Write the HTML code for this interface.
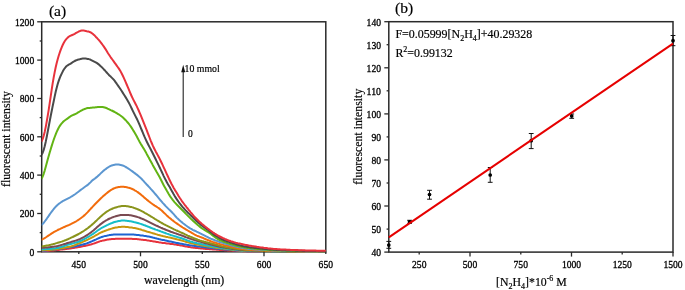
<!DOCTYPE html><html><head><meta charset="utf-8"><style>html,body{margin:0;padding:0;background:#fff;width:685px;height:290px;overflow:hidden}svg{display:block}text{fill:#000;stroke:#000;stroke-width:0.18px}</style></head><body>
<div style="position:absolute;left:0;top:0;width:685px;height:290px;will-change:transform">
<svg width="685" height="290" viewBox="0 0 685 290">
<rect width="685" height="290" fill="#fff"/>
<clipPath id="ca"><rect x="41.7" y="21.8" width="284.1" height="231.0"/></clipPath>
<rect x="41.7" y="21.8" width="284.1" height="230.0" fill="none" stroke="#2a2a2a" stroke-width="1.5"/>
<g clip-path="url(#ca)" fill="none" stroke-width="2" stroke-linejoin="round" stroke-linecap="round">
<path d="M41.7,251.2 L42.7,251.2 L43.7,251.1 L44.7,251.1 L45.7,251.0 L46.7,250.9 L47.7,250.9 L48.7,250.8 L49.7,250.7 L50.7,250.6 L51.7,250.6 L52.7,250.5 L53.7,250.4 L54.7,250.3 L55.7,250.2 L56.7,250.1 L57.7,250.0 L58.7,249.9 L59.7,249.8 L60.7,249.6 L61.7,249.5 L62.7,249.4 L63.7,249.3 L64.7,249.2 L65.7,249.0 L66.7,248.9 L67.7,248.8 L68.7,248.7 L69.7,248.5 L70.7,248.4 L71.7,248.3 L72.7,248.1 L73.7,248.0 L74.7,247.8 L75.7,247.6 L76.7,247.4 L77.7,247.3 L78.7,247.1 L79.7,246.9 L80.7,246.7 L81.7,246.5 L82.7,246.3 L83.7,246.1 L84.7,245.9 L85.7,245.7 L86.7,245.4 L87.7,245.2 L88.7,245.0 L89.7,244.7 L90.7,244.5 L91.7,244.2 L92.7,243.9 L93.7,243.6 L94.7,243.3 L95.7,242.9 L96.7,242.5 L97.7,242.1 L98.7,241.8 L99.7,241.4 L100.7,241.1 L101.7,240.9 L102.7,240.6 L103.7,240.4 L104.7,240.2 L105.7,240.0 L106.7,239.8 L107.7,239.6 L108.7,239.5 L109.7,239.3 L110.7,239.2 L111.7,239.1 L112.7,239.0 L113.7,238.9 L114.7,238.9 L115.7,238.8 L116.7,238.8 L117.7,238.8 L118.7,238.8 L119.7,238.8 L120.7,238.8 L121.7,238.8 L122.7,238.8 L123.7,238.8 L124.7,238.8 L125.7,238.8 L126.7,238.8 L127.7,238.8 L128.7,238.8 L129.7,238.8 L130.7,238.8 L131.7,238.8 L132.7,238.9 L133.7,238.9 L134.7,239.0 L135.7,239.1 L136.7,239.1 L137.7,239.2 L138.7,239.3 L139.7,239.4 L140.7,239.6 L141.7,239.7 L142.7,239.8 L143.7,239.9 L144.7,240.0 L145.7,240.1 L146.7,240.3 L147.7,240.4 L148.7,240.6 L149.7,240.7 L150.7,240.9 L151.7,241.1 L152.7,241.2 L153.7,241.4 L154.7,241.6 L155.7,241.8 L156.7,242.0 L157.7,242.1 L158.7,242.3 L159.7,242.4 L160.7,242.6 L161.7,242.7 L162.7,242.9 L163.7,243.0 L164.7,243.1 L165.7,243.2 L166.7,243.4 L167.7,243.5 L168.7,243.6 L169.7,243.7 L170.7,243.9 L171.7,244.0 L172.7,244.1 L173.7,244.3 L174.7,244.4 L175.7,244.6 L176.7,244.7 L177.7,244.9 L178.7,245.1 L179.7,245.2 L180.7,245.4 L181.7,245.6 L182.7,245.8 L183.7,246.0 L184.7,246.2 L185.7,246.4 L186.7,246.6 L187.7,246.8 L188.7,247.0 L189.7,247.1 L190.7,247.3 L191.7,247.4 L192.7,247.5 L193.7,247.7 L194.7,247.8 L195.7,247.9 L196.7,248.0 L197.7,248.1 L198.7,248.2 L199.7,248.3 L200.7,248.4 L201.7,248.5 L202.7,248.6 L203.7,248.7 L204.7,248.8 L205.7,248.9 L206.7,248.9 L207.7,249.0 L208.7,249.1 L209.7,249.2 L210.7,249.3 L211.7,249.3 L212.7,249.4 L213.7,249.5 L214.7,249.5 L215.7,249.6 L216.7,249.7 L217.7,249.7 L218.7,249.8 L219.7,249.9 L220.7,249.9 L221.7,250.0 L222.7,250.1 L223.7,250.1 L224.7,250.2 L225.7,250.2 L226.7,250.3 L227.7,250.4 L228.7,250.4 L229.7,250.5 L230.7,250.6 L231.7,250.6 L232.7,250.7 L233.7,250.7 L234.7,250.8 L235.7,250.8 L236.7,250.9 L237.7,251.0 L238.7,251.0 L239.7,251.1 L240.7,251.1 L241.7,251.1 L242.7,251.2 L243.7,251.2 L244.7,251.3 L245.7,251.3 L246.7,251.3 L247.7,251.4 L248.7,251.4 L249.7,251.4 L250.7,251.4 L251.7,251.4 L252.7,251.4 L253.7,251.4 L254.7,251.5 L255.7,251.5 L256.7,251.5 L257.7,251.5 L258.7,251.5 L259.7,251.5 L260.7,251.5 L261.7,251.5 L262.7,251.5 L263.7,251.5 L264.7,251.5 L265.7,251.5 L266.7,251.5 L267.7,251.5 L268.7,251.5 L269.7,251.5 L270.7,251.5 L271.7,251.5 L272.7,251.5 L273.7,251.5 L274.7,251.5 L275.7,251.5 L276.7,251.5 L277.7,251.5 L278.7,251.5 L279.7,251.5 L280.7,251.5 L281.7,251.5 L282.7,251.5 L283.7,251.5 L284.7,251.5 L285.7,251.5 L286.7,251.5 L287.7,251.5 L288.7,251.5 L289.7,251.5 L290.7,251.5 L291.7,251.5 L292.7,251.5 L293.7,251.5 L294.7,251.5 L295.7,251.5 L296.7,251.5 L297.7,251.5 L298.7,251.5 L299.7,251.5 L300.7,251.5 L301.7,251.5 L302.7,251.5 L303.7,251.5 L304.7,251.5 L305.7,251.5 L306.7,251.5 L307.7,251.5 L308.7,251.5 L309.7,251.5 L310.7,251.5 L311.7,251.5 L312.7,251.5 L313.7,251.5 L314.7,251.5 L315.7,251.5 L316.7,251.5 L317.7,251.5 L318.7,251.5 L319.7,251.5 L320.7,251.5 L321.7,251.5 L322.7,251.5 L323.7,251.5 L324.7,251.5 L325.7,251.5" stroke="#e6323c"/>
<path d="M41.7,250.8 L42.7,250.7 L43.7,250.7 L44.7,250.6 L45.7,250.5 L46.7,250.4 L47.7,250.3 L48.7,250.2 L49.7,250.1 L50.7,250.0 L51.7,249.9 L52.7,249.8 L53.7,249.6 L54.7,249.5 L55.7,249.4 L56.7,249.2 L57.7,249.1 L58.7,249.0 L59.7,248.8 L60.7,248.7 L61.7,248.5 L62.7,248.4 L63.7,248.2 L64.7,248.1 L65.7,247.9 L66.7,247.7 L67.7,247.6 L68.7,247.4 L69.7,247.2 L70.7,247.1 L71.7,246.9 L72.7,246.7 L73.7,246.5 L74.7,246.4 L75.7,246.2 L76.7,246.0 L77.7,245.7 L78.7,245.5 L79.7,245.3 L80.7,245.1 L81.7,244.8 L82.7,244.6 L83.7,244.3 L84.7,244.0 L85.7,243.7 L86.7,243.4 L87.7,243.0 L88.7,242.6 L89.7,242.2 L90.7,241.8 L91.7,241.4 L92.7,240.9 L93.7,240.5 L94.7,240.0 L95.7,239.6 L96.7,239.1 L97.7,238.6 L98.7,238.2 L99.7,237.8 L100.7,237.4 L101.7,237.0 L102.7,236.7 L103.7,236.4 L104.7,236.1 L105.7,235.9 L106.7,235.7 L107.7,235.4 L108.7,235.3 L109.7,235.1 L110.7,235.0 L111.7,234.8 L112.7,234.7 L113.7,234.6 L114.7,234.6 L115.7,234.5 L116.7,234.5 L117.7,234.5 L118.7,234.5 L119.7,234.5 L120.7,234.5 L121.7,234.5 L122.7,234.5 L123.7,234.5 L124.7,234.5 L125.7,234.5 L126.7,234.5 L127.7,234.5 L128.7,234.5 L129.7,234.5 L130.7,234.5 L131.7,234.6 L132.7,234.6 L133.7,234.6 L134.7,234.7 L135.7,234.8 L136.7,234.9 L137.7,235.0 L138.7,235.1 L139.7,235.2 L140.7,235.4 L141.7,235.5 L142.7,235.6 L143.7,235.8 L144.7,235.9 L145.7,236.0 L146.7,236.2 L147.7,236.4 L148.7,236.6 L149.7,236.8 L150.7,237.0 L151.7,237.2 L152.7,237.5 L153.7,237.7 L154.7,238.0 L155.7,238.2 L156.7,238.5 L157.7,238.7 L158.7,239.0 L159.7,239.2 L160.7,239.5 L161.7,239.7 L162.7,239.9 L163.7,240.1 L164.7,240.3 L165.7,240.6 L166.7,240.8 L167.7,241.0 L168.7,241.2 L169.7,241.4 L170.7,241.6 L171.7,241.8 L172.7,242.1 L173.7,242.3 L174.7,242.5 L175.7,242.7 L176.7,242.9 L177.7,243.1 L178.7,243.3 L179.7,243.5 L180.7,243.7 L181.7,243.8 L182.7,244.0 L183.7,244.2 L184.7,244.4 L185.7,244.6 L186.7,244.8 L187.7,244.9 L188.7,245.1 L189.7,245.2 L190.7,245.4 L191.7,245.5 L192.7,245.7 L193.7,245.8 L194.7,246.0 L195.7,246.1 L196.7,246.2 L197.7,246.4 L198.7,246.5 L199.7,246.6 L200.7,246.8 L201.7,246.9 L202.7,247.0 L203.7,247.1 L204.7,247.3 L205.7,247.4 L206.7,247.5 L207.7,247.6 L208.7,247.7 L209.7,247.8 L210.7,248.0 L211.7,248.1 L212.7,248.2 L213.7,248.3 L214.7,248.4 L215.7,248.5 L216.7,248.6 L217.7,248.7 L218.7,248.8 L219.7,248.9 L220.7,249.0 L221.7,249.1 L222.7,249.2 L223.7,249.3 L224.7,249.4 L225.7,249.5 L226.7,249.6 L227.7,249.7 L228.7,249.8 L229.7,249.8 L230.7,249.9 L231.7,250.0 L232.7,250.1 L233.7,250.2 L234.7,250.3 L235.7,250.4 L236.7,250.5 L237.7,250.6 L238.7,250.7 L239.7,250.8 L240.7,250.8 L241.7,250.9 L242.7,251.0 L243.7,251.0 L244.7,251.1 L245.7,251.1 L246.7,251.2 L247.7,251.2 L248.7,251.3 L249.7,251.3 L250.7,251.3 L251.7,251.3 L252.7,251.3 L253.7,251.4 L254.7,251.4 L255.7,251.4 L256.7,251.4 L257.7,251.4 L258.7,251.4 L259.7,251.4 L260.7,251.5 L261.7,251.5 L262.7,251.5 L263.7,251.5 L264.7,251.5 L265.7,251.5 L266.7,251.5 L267.7,251.5 L268.7,251.5 L269.7,251.5 L270.7,251.5 L271.7,251.5 L272.7,251.5 L273.7,251.5 L274.7,251.5 L275.7,251.5 L276.7,251.5 L277.7,251.5 L278.7,251.5 L279.7,251.5 L280.7,251.5 L281.7,251.5 L282.7,251.5 L283.7,251.5 L284.7,251.5 L285.7,251.5 L286.7,251.5 L287.7,251.5 L288.7,251.5 L289.7,251.5 L290.7,251.5 L291.7,251.5 L292.7,251.5 L293.7,251.5 L294.7,251.5 L295.7,251.5 L296.7,251.5 L297.7,251.5 L298.7,251.5 L299.7,251.5 L300.7,251.5 L301.7,251.5 L302.7,251.5 L303.7,251.5 L304.7,251.5 L305.7,251.5 L306.7,251.5 L307.7,251.5 L308.7,251.5 L309.7,251.5 L310.7,251.5 L311.7,251.5 L312.7,251.5 L313.7,251.5 L314.7,251.5 L315.7,251.5 L316.7,251.5 L317.7,251.5 L318.7,251.5 L319.7,251.5 L320.7,251.5 L321.7,251.5 L322.7,251.5 L323.7,251.5 L324.7,251.5 L325.7,251.5" stroke="#1e64d2"/>
<path d="M41.7,250.2 L42.7,250.2 L43.7,250.2 L44.7,250.1 L45.7,250.1 L46.7,250.1 L47.7,250.0 L48.7,249.9 L49.7,249.9 L50.7,249.8 L51.7,249.7 L52.7,249.6 L53.7,249.5 L54.7,249.4 L55.7,249.2 L56.7,249.1 L57.7,248.9 L58.7,248.8 L59.7,248.6 L60.7,248.5 L61.7,248.3 L62.7,248.1 L63.7,247.9 L64.7,247.7 L65.7,247.5 L66.7,247.3 L67.7,247.1 L68.7,246.9 L69.7,246.7 L70.7,246.5 L71.7,246.2 L72.7,245.9 L73.7,245.6 L74.7,245.2 L75.7,244.7 L76.7,244.3 L77.7,243.9 L78.7,243.5 L79.7,243.1 L80.7,242.7 L81.7,242.3 L82.7,241.9 L83.7,241.4 L84.7,241.0 L85.7,240.6 L86.7,240.1 L87.7,239.7 L88.7,239.2 L89.7,238.7 L90.7,238.2 L91.7,237.6 L92.7,237.1 L93.7,236.6 L94.7,236.0 L95.7,235.4 L96.7,234.8 L97.7,234.3 L98.7,233.7 L99.7,233.2 L100.7,232.7 L101.7,232.2 L102.7,231.8 L103.7,231.4 L104.7,231.0 L105.7,230.6 L106.7,230.2 L107.7,229.9 L108.7,229.5 L109.7,229.2 L110.7,228.9 L111.7,228.6 L112.7,228.3 L113.7,228.0 L114.7,227.8 L115.7,227.6 L116.7,227.4 L117.7,227.3 L118.7,227.1 L119.7,227.0 L120.7,226.9 L121.7,226.8 L122.7,226.8 L123.7,226.8 L124.7,226.8 L125.7,226.9 L126.7,227.0 L127.7,227.1 L128.7,227.2 L129.7,227.4 L130.7,227.5 L131.7,227.6 L132.7,227.8 L133.7,227.9 L134.7,228.1 L135.7,228.3 L136.7,228.5 L137.7,228.7 L138.7,229.0 L139.7,229.2 L140.7,229.5 L141.7,229.9 L142.7,230.2 L143.7,230.5 L144.7,230.8 L145.7,231.1 L146.7,231.5 L147.7,231.8 L148.7,232.1 L149.7,232.3 L150.7,232.6 L151.7,232.9 L152.7,233.2 L153.7,233.5 L154.7,233.8 L155.7,234.1 L156.7,234.4 L157.7,234.7 L158.7,234.9 L159.7,235.2 L160.7,235.5 L161.7,235.7 L162.7,236.0 L163.7,236.2 L164.7,236.4 L165.7,236.7 L166.7,236.9 L167.7,237.1 L168.7,237.4 L169.7,237.6 L170.7,237.8 L171.7,238.1 L172.7,238.3 L173.7,238.5 L174.7,238.8 L175.7,239.0 L176.7,239.3 L177.7,239.5 L178.7,239.8 L179.7,240.0 L180.7,240.3 L181.7,240.5 L182.7,240.8 L183.7,241.1 L184.7,241.4 L185.7,241.7 L186.7,242.1 L187.7,242.3 L188.7,242.6 L189.7,242.9 L190.7,243.1 L191.7,243.4 L192.7,243.6 L193.7,243.8 L194.7,244.0 L195.7,244.2 L196.7,244.4 L197.7,244.6 L198.7,244.8 L199.7,245.0 L200.7,245.2 L201.7,245.4 L202.7,245.6 L203.7,245.8 L204.7,246.0 L205.7,246.1 L206.7,246.3 L207.7,246.5 L208.7,246.6 L209.7,246.8 L210.7,247.0 L211.7,247.1 L212.7,247.3 L213.7,247.4 L214.7,247.6 L215.7,247.7 L216.7,247.9 L217.7,248.0 L218.7,248.1 L219.7,248.3 L220.7,248.4 L221.7,248.5 L222.7,248.6 L223.7,248.7 L224.7,248.9 L225.7,249.0 L226.7,249.1 L227.7,249.2 L228.7,249.3 L229.7,249.4 L230.7,249.6 L231.7,249.7 L232.7,249.8 L233.7,249.9 L234.7,250.0 L235.7,250.1 L236.7,250.2 L237.7,250.3 L238.7,250.4 L239.7,250.5 L240.7,250.6 L241.7,250.7 L242.7,250.7 L243.7,250.8 L244.7,250.9 L245.7,250.9 L246.7,251.0 L247.7,251.0 L248.7,251.1 L249.7,251.1 L250.7,251.1 L251.7,251.1 L252.7,251.2 L253.7,251.2 L254.7,251.2 L255.7,251.2 L256.7,251.2 L257.7,251.3 L258.7,251.3 L259.7,251.3 L260.7,251.3 L261.7,251.3 L262.7,251.4 L263.7,251.4 L264.7,251.4 L265.7,251.4 L266.7,251.4 L267.7,251.4 L268.7,251.5 L269.7,251.5 L270.7,251.5 L271.7,251.5 L272.7,251.5 L273.7,251.5 L274.7,251.5 L275.7,251.5 L276.7,251.5 L277.7,251.5 L278.7,251.5 L279.7,251.5 L280.7,251.5 L281.7,251.5 L282.7,251.5 L283.7,251.5 L284.7,251.5 L285.7,251.5 L286.7,251.5 L287.7,251.5 L288.7,251.5 L289.7,251.5 L290.7,251.5 L291.7,251.5 L292.7,251.5 L293.7,251.5 L294.7,251.5 L295.7,251.5 L296.7,251.5 L297.7,251.5 L298.7,251.5 L299.7,251.5 L300.7,251.5 L301.7,251.5 L302.7,251.5 L303.7,251.5 L304.7,251.5 L305.7,251.5 L306.7,251.5 L307.7,251.5 L308.7,251.5 L309.7,251.5 L310.7,251.5 L311.7,251.5 L312.7,251.5 L313.7,251.5 L314.7,251.5 L315.7,251.5 L316.7,251.5 L317.7,251.5 L318.7,251.5 L319.7,251.5 L320.7,251.5 L321.7,251.5 L322.7,251.5 L323.7,251.5 L324.7,251.5 L325.7,251.5" stroke="#c8960c"/>
<path d="M41.7,249.3 L42.7,249.3 L43.7,249.3 L44.7,249.2 L45.7,249.2 L46.7,249.1 L47.7,249.1 L48.7,249.0 L49.7,248.9 L50.7,248.8 L51.7,248.7 L52.7,248.6 L53.7,248.5 L54.7,248.4 L55.7,248.3 L56.7,248.1 L57.7,247.9 L58.7,247.7 L59.7,247.4 L60.7,247.1 L61.7,246.8 L62.7,246.5 L63.7,246.2 L64.7,245.8 L65.7,245.5 L66.7,245.1 L67.7,244.8 L68.7,244.5 L69.7,244.2 L70.7,243.9 L71.7,243.7 L72.7,243.4 L73.7,243.2 L74.7,242.9 L75.7,242.6 L76.7,242.3 L77.7,242.0 L78.7,241.6 L79.7,241.2 L80.7,240.8 L81.7,240.3 L82.7,239.8 L83.7,239.3 L84.7,238.8 L85.7,238.3 L86.7,237.7 L87.7,237.2 L88.7,236.6 L89.7,236.0 L90.7,235.3 L91.7,234.7 L92.7,234.1 L93.7,233.4 L94.7,232.7 L95.7,232.0 L96.7,231.2 L97.7,230.5 L98.7,229.8 L99.7,229.2 L100.7,228.5 L101.7,227.9 L102.7,227.4 L103.7,226.8 L104.7,226.3 L105.7,225.8 L106.7,225.3 L107.7,224.9 L108.7,224.4 L109.7,223.9 L110.7,223.5 L111.7,223.1 L112.7,222.7 L113.7,222.3 L114.7,222.0 L115.7,221.7 L116.7,221.5 L117.7,221.2 L118.7,221.0 L119.7,220.9 L120.7,220.7 L121.7,220.6 L122.7,220.6 L123.7,220.6 L124.7,220.6 L125.7,220.7 L126.7,220.8 L127.7,220.9 L128.7,221.0 L129.7,221.2 L130.7,221.3 L131.7,221.5 L132.7,221.7 L133.7,222.0 L134.7,222.2 L135.7,222.4 L136.7,222.7 L137.7,223.0 L138.7,223.3 L139.7,223.6 L140.7,223.9 L141.7,224.2 L142.7,224.6 L143.7,225.0 L144.7,225.3 L145.7,225.7 L146.7,226.1 L147.7,226.5 L148.7,226.9 L149.7,227.3 L150.7,227.7 L151.7,228.1 L152.7,228.5 L153.7,228.8 L154.7,229.2 L155.7,229.6 L156.7,229.9 L157.7,230.3 L158.7,230.6 L159.7,231.0 L160.7,231.4 L161.7,231.7 L162.7,232.1 L163.7,232.5 L164.7,232.8 L165.7,233.2 L166.7,233.6 L167.7,233.9 L168.7,234.3 L169.7,234.6 L170.7,235.0 L171.7,235.3 L172.7,235.6 L173.7,235.9 L174.7,236.2 L175.7,236.5 L176.7,236.8 L177.7,237.1 L178.7,237.4 L179.7,237.7 L180.7,238.0 L181.7,238.3 L182.7,238.7 L183.7,239.0 L184.7,239.4 L185.7,239.8 L186.7,240.2 L187.7,240.6 L188.7,240.9 L189.7,241.3 L190.7,241.6 L191.7,241.9 L192.7,242.1 L193.7,242.4 L194.7,242.7 L195.7,242.9 L196.7,243.1 L197.7,243.4 L198.7,243.6 L199.7,243.8 L200.7,244.0 L201.7,244.2 L202.7,244.4 L203.7,244.6 L204.7,244.8 L205.7,245.0 L206.7,245.2 L207.7,245.4 L208.7,245.6 L209.7,245.8 L210.7,246.0 L211.7,246.2 L212.7,246.4 L213.7,246.6 L214.7,246.8 L215.7,246.9 L216.7,247.1 L217.7,247.3 L218.7,247.5 L219.7,247.6 L220.7,247.8 L221.7,247.9 L222.7,248.1 L223.7,248.2 L224.7,248.4 L225.7,248.5 L226.7,248.6 L227.7,248.8 L228.7,248.9 L229.7,249.0 L230.7,249.1 L231.7,249.3 L232.7,249.4 L233.7,249.5 L234.7,249.6 L235.7,249.8 L236.7,249.9 L237.7,250.0 L238.7,250.1 L239.7,250.2 L240.7,250.3 L241.7,250.4 L242.7,250.5 L243.7,250.6 L244.7,250.6 L245.7,250.7 L246.7,250.8 L247.7,250.8 L248.7,250.8 L249.7,250.9 L250.7,250.9 L251.7,250.9 L252.7,251.0 L253.7,251.0 L254.7,251.0 L255.7,251.0 L256.7,251.1 L257.7,251.1 L258.7,251.1 L259.7,251.1 L260.7,251.1 L261.7,251.2 L262.7,251.2 L263.7,251.2 L264.7,251.2 L265.7,251.2 L266.7,251.3 L267.7,251.3 L268.7,251.3 L269.7,251.3 L270.7,251.3 L271.7,251.3 L272.7,251.4 L273.7,251.4 L274.7,251.4 L275.7,251.4 L276.7,251.4 L277.7,251.4 L278.7,251.5 L279.7,251.5 L280.7,251.5 L281.7,251.5 L282.7,251.5 L283.7,251.5 L284.7,251.5 L285.7,251.5 L286.7,251.5 L287.7,251.5 L288.7,251.5 L289.7,251.5 L290.7,251.5 L291.7,251.5 L292.7,251.5 L293.7,251.5 L294.7,251.5 L295.7,251.5 L296.7,251.5 L297.7,251.5 L298.7,251.5 L299.7,251.5 L300.7,251.5 L301.7,251.5 L302.7,251.5 L303.7,251.5 L304.7,251.5 L305.7,251.5 L306.7,251.5 L307.7,251.5 L308.7,251.5 L309.7,251.5 L310.7,251.5 L311.7,251.5 L312.7,251.5 L313.7,251.5 L314.7,251.5 L315.7,251.5 L316.7,251.5 L317.7,251.5 L318.7,251.5 L319.7,251.5 L320.7,251.5 L321.7,251.5 L322.7,251.5 L323.7,251.5 L324.7,251.5 L325.7,251.5" stroke="#16bec8"/>
<path d="M41.7,247.8 L42.7,247.8 L43.7,247.7 L44.7,247.7 L45.7,247.6 L46.7,247.5 L47.7,247.4 L48.7,247.3 L49.7,247.2 L50.7,247.1 L51.7,247.0 L52.7,246.8 L53.7,246.7 L54.7,246.5 L55.7,246.4 L56.7,246.2 L57.7,246.0 L58.7,245.7 L59.7,245.5 L60.7,245.2 L61.7,244.9 L62.7,244.6 L63.7,244.3 L64.7,244.0 L65.7,243.7 L66.7,243.3 L67.7,243.0 L68.7,242.7 L69.7,242.4 L70.7,242.1 L71.7,241.8 L72.7,241.5 L73.7,241.2 L74.7,240.9 L75.7,240.6 L76.7,240.3 L77.7,239.9 L78.7,239.5 L79.7,239.1 L80.7,238.6 L81.7,238.1 L82.7,237.6 L83.7,237.1 L84.7,236.5 L85.7,235.9 L86.7,235.3 L87.7,234.7 L88.7,234.0 L89.7,233.3 L90.7,232.6 L91.7,231.8 L92.7,231.0 L93.7,230.2 L94.7,229.3 L95.7,228.4 L96.7,227.5 L97.7,226.6 L98.7,225.8 L99.7,224.9 L100.7,224.1 L101.7,223.4 L102.7,222.6 L103.7,221.9 L104.7,221.3 L105.7,220.6 L106.7,220.1 L107.7,219.5 L108.7,219.0 L109.7,218.5 L110.7,218.1 L111.7,217.6 L112.7,217.3 L113.7,216.9 L114.7,216.6 L115.7,216.3 L116.7,216.0 L117.7,215.7 L118.7,215.5 L119.7,215.3 L120.7,215.1 L121.7,215.0 L122.7,214.9 L123.7,214.9 L124.7,214.9 L125.7,214.9 L126.7,214.9 L127.7,215.0 L128.7,215.1 L129.7,215.2 L130.7,215.3 L131.7,215.5 L132.7,215.7 L133.7,215.9 L134.7,216.2 L135.7,216.5 L136.7,216.8 L137.7,217.1 L138.7,217.4 L139.7,217.8 L140.7,218.2 L141.7,218.6 L142.7,219.0 L143.7,219.4 L144.7,219.9 L145.7,220.3 L146.7,220.8 L147.7,221.3 L148.7,221.8 L149.7,222.3 L150.7,222.8 L151.7,223.3 L152.7,223.8 L153.7,224.3 L154.7,224.8 L155.7,225.3 L156.7,225.8 L157.7,226.2 L158.7,226.7 L159.7,227.1 L160.7,227.6 L161.7,228.0 L162.7,228.5 L163.7,228.9 L164.7,229.3 L165.7,229.7 L166.7,230.1 L167.7,230.5 L168.7,230.9 L169.7,231.3 L170.7,231.7 L171.7,232.0 L172.7,232.4 L173.7,232.8 L174.7,233.1 L175.7,233.4 L176.7,233.8 L177.7,234.1 L178.7,234.5 L179.7,234.8 L180.7,235.1 L181.7,235.5 L182.7,235.9 L183.7,236.3 L184.7,236.7 L185.7,237.1 L186.7,237.4 L187.7,237.8 L188.7,238.2 L189.7,238.6 L190.7,238.9 L191.7,239.2 L192.7,239.6 L193.7,239.9 L194.7,240.2 L195.7,240.5 L196.7,240.8 L197.7,241.1 L198.7,241.4 L199.7,241.6 L200.7,241.9 L201.7,242.2 L202.7,242.5 L203.7,242.7 L204.7,243.0 L205.7,243.3 L206.7,243.5 L207.7,243.8 L208.7,244.0 L209.7,244.3 L210.7,244.5 L211.7,244.8 L212.7,245.1 L213.7,245.3 L214.7,245.6 L215.7,245.8 L216.7,246.0 L217.7,246.3 L218.7,246.5 L219.7,246.7 L220.7,246.9 L221.7,247.1 L222.7,247.3 L223.7,247.5 L224.7,247.6 L225.7,247.8 L226.7,248.0 L227.7,248.1 L228.7,248.3 L229.7,248.4 L230.7,248.6 L231.7,248.7 L232.7,248.9 L233.7,249.0 L234.7,249.2 L235.7,249.3 L236.7,249.4 L237.7,249.6 L238.7,249.7 L239.7,249.8 L240.7,249.9 L241.7,250.0 L242.7,250.1 L243.7,250.2 L244.7,250.3 L245.7,250.4 L246.7,250.4 L247.7,250.5 L248.7,250.5 L249.7,250.6 L250.7,250.6 L251.7,250.7 L252.7,250.7 L253.7,250.7 L254.7,250.7 L255.7,250.8 L256.7,250.8 L257.7,250.8 L258.7,250.9 L259.7,250.9 L260.7,250.9 L261.7,250.9 L262.7,251.0 L263.7,251.0 L264.7,251.0 L265.7,251.0 L266.7,251.1 L267.7,251.1 L268.7,251.1 L269.7,251.1 L270.7,251.2 L271.7,251.2 L272.7,251.2 L273.7,251.2 L274.7,251.3 L275.7,251.3 L276.7,251.3 L277.7,251.3 L278.7,251.3 L279.7,251.4 L280.7,251.4 L281.7,251.4 L282.7,251.4 L283.7,251.4 L284.7,251.4 L285.7,251.5 L286.7,251.5 L287.7,251.5 L288.7,251.5 L289.7,251.5 L290.7,251.5 L291.7,251.5 L292.7,251.5 L293.7,251.5 L294.7,251.5 L295.7,251.5 L296.7,251.5 L297.7,251.5 L298.7,251.5 L299.7,251.5 L300.7,251.5 L301.7,251.5 L302.7,251.5 L303.7,251.5 L304.7,251.5 L305.7,251.5 L306.7,251.5 L307.7,251.5 L308.7,251.5 L309.7,251.5 L310.7,251.5 L311.7,251.5 L312.7,251.5 L313.7,251.5 L314.7,251.5 L315.7,251.5 L316.7,251.5 L317.7,251.5 L318.7,251.5 L319.7,251.5 L320.7,251.5 L321.7,251.5 L322.7,251.5 L323.7,251.5 L324.7,251.5 L325.7,251.5" stroke="#7a4a52"/>
<path d="M41.7,246.4 L42.7,246.3 L43.7,246.2 L44.7,246.0 L45.7,245.8 L46.7,245.6 L47.7,245.4 L48.7,245.2 L49.7,244.9 L50.7,244.7 L51.7,244.4 L52.7,244.2 L53.7,243.9 L54.7,243.7 L55.7,243.4 L56.7,243.1 L57.7,242.8 L58.7,242.5 L59.7,242.2 L60.7,241.9 L61.7,241.6 L62.7,241.2 L63.7,240.9 L64.7,240.5 L65.7,240.1 L66.7,239.7 L67.7,239.3 L68.7,238.8 L69.7,238.4 L70.7,237.9 L71.7,237.4 L72.7,237.0 L73.7,236.5 L74.7,236.0 L75.7,235.5 L76.7,235.0 L77.7,234.5 L78.7,234.0 L79.7,233.4 L80.7,232.8 L81.7,232.2 L82.7,231.6 L83.7,231.0 L84.7,230.3 L85.7,229.6 L86.7,228.9 L87.7,228.2 L88.7,227.4 L89.7,226.6 L90.7,225.8 L91.7,224.9 L92.7,224.1 L93.7,223.2 L94.7,222.3 L95.7,221.3 L96.7,220.4 L97.7,219.4 L98.7,218.4 L99.7,217.5 L100.7,216.6 L101.7,215.7 L102.7,214.8 L103.7,214.0 L104.7,213.2 L105.7,212.4 L106.7,211.7 L107.7,211.1 L108.7,210.5 L109.7,209.9 L110.7,209.4 L111.7,209.0 L112.7,208.5 L113.7,208.1 L114.7,207.8 L115.7,207.5 L116.7,207.2 L117.7,206.9 L118.7,206.6 L119.7,206.4 L120.7,206.2 L121.7,206.1 L122.7,206.0 L123.7,206.0 L124.7,206.0 L125.7,206.1 L126.7,206.2 L127.7,206.3 L128.7,206.5 L129.7,206.7 L130.7,206.9 L131.7,207.1 L132.7,207.4 L133.7,207.8 L134.7,208.1 L135.7,208.5 L136.7,208.9 L137.7,209.3 L138.7,209.7 L139.7,210.2 L140.7,210.7 L141.7,211.2 L142.7,211.7 L143.7,212.2 L144.7,212.8 L145.7,213.3 L146.7,213.9 L147.7,214.5 L148.7,215.1 L149.7,215.7 L150.7,216.3 L151.7,216.9 L152.7,217.5 L153.7,218.1 L154.7,218.8 L155.7,219.4 L156.7,220.0 L157.7,220.6 L158.7,221.2 L159.7,221.8 L160.7,222.4 L161.7,223.0 L162.7,223.5 L163.7,224.1 L164.7,224.6 L165.7,225.2 L166.7,225.7 L167.7,226.2 L168.7,226.7 L169.7,227.2 L170.7,227.7 L171.7,228.2 L172.7,228.7 L173.7,229.2 L174.7,229.6 L175.7,230.1 L176.7,230.5 L177.7,231.0 L178.7,231.4 L179.7,231.9 L180.7,232.3 L181.7,232.8 L182.7,233.2 L183.7,233.7 L184.7,234.2 L185.7,234.6 L186.7,235.1 L187.7,235.6 L188.7,236.0 L189.7,236.5 L190.7,236.9 L191.7,237.3 L192.7,237.7 L193.7,238.1 L194.7,238.5 L195.7,238.9 L196.7,239.3 L197.7,239.7 L198.7,240.0 L199.7,240.4 L200.7,240.7 L201.7,241.0 L202.7,241.2 L203.7,241.5 L204.7,241.7 L205.7,242.0 L206.7,242.2 L207.7,242.5 L208.7,242.7 L209.7,243.0 L210.7,243.2 L211.7,243.5 L212.7,243.7 L213.7,244.0 L214.7,244.3 L215.7,244.6 L216.7,244.9 L217.7,245.1 L218.7,245.4 L219.7,245.7 L220.7,245.9 L221.7,246.2 L222.7,246.4 L223.7,246.6 L224.7,246.8 L225.7,247.0 L226.7,247.2 L227.7,247.4 L228.7,247.6 L229.7,247.7 L230.7,247.9 L231.7,248.1 L232.7,248.2 L233.7,248.4 L234.7,248.5 L235.7,248.7 L236.7,248.8 L237.7,249.0 L238.7,249.1 L239.7,249.2 L240.7,249.4 L241.7,249.5 L242.7,249.6 L243.7,249.7 L244.7,249.8 L245.7,249.9 L246.7,250.0 L247.7,250.0 L248.7,250.1 L249.7,250.2 L250.7,250.2 L251.7,250.3 L252.7,250.3 L253.7,250.4 L254.7,250.4 L255.7,250.5 L256.7,250.5 L257.7,250.6 L258.7,250.6 L259.7,250.6 L260.7,250.7 L261.7,250.7 L262.7,250.8 L263.7,250.8 L264.7,250.8 L265.7,250.9 L266.7,250.9 L267.7,250.9 L268.7,251.0 L269.7,251.0 L270.7,251.0 L271.7,251.0 L272.7,251.1 L273.7,251.1 L274.7,251.1 L275.7,251.1 L276.7,251.2 L277.7,251.2 L278.7,251.2 L279.7,251.2 L280.7,251.2 L281.7,251.3 L282.7,251.3 L283.7,251.3 L284.7,251.3 L285.7,251.3 L286.7,251.4 L287.7,251.4 L288.7,251.4 L289.7,251.4 L290.7,251.4 L291.7,251.4 L292.7,251.4 L293.7,251.4 L294.7,251.5 L295.7,251.5 L296.7,251.5 L297.7,251.5 L298.7,251.5 L299.7,251.5 L300.7,251.5 L301.7,251.5 L302.7,251.5 L303.7,251.5 L304.7,251.5 L305.7,251.5 L306.7,251.5 L307.7,251.5 L308.7,251.5 L309.7,251.5 L310.7,251.5 L311.7,251.5 L312.7,251.5 L313.7,251.5 L314.7,251.5 L315.7,251.5 L316.7,251.5 L317.7,251.5 L318.7,251.5 L319.7,251.5 L320.7,251.5 L321.7,251.5 L322.7,251.5 L323.7,251.5 L324.7,251.5 L325.7,251.5" stroke="#8a941c"/>
<path d="M41.7,239.6 L42.7,239.2 L43.7,238.7 L44.7,238.1 L45.7,237.5 L46.7,236.8 L47.7,236.1 L48.7,235.4 L49.7,234.8 L50.7,234.1 L51.7,233.4 L52.7,232.8 L53.7,232.2 L54.7,231.6 L55.7,231.1 L56.7,230.6 L57.7,230.0 L58.7,229.5 L59.7,229.1 L60.7,228.6 L61.7,228.1 L62.7,227.7 L63.7,227.2 L64.7,226.8 L65.7,226.3 L66.7,225.9 L67.7,225.5 L68.7,225.1 L69.7,224.6 L70.7,224.2 L71.7,223.7 L72.7,223.2 L73.7,222.7 L74.7,222.1 L75.7,221.6 L76.7,221.0 L77.7,220.3 L78.7,219.7 L79.7,219.0 L80.7,218.3 L81.7,217.5 L82.7,216.8 L83.7,215.9 L84.7,215.1 L85.7,214.1 L86.7,213.1 L87.7,212.1 L88.7,211.0 L89.7,209.9 L90.7,208.8 L91.7,207.8 L92.7,206.7 L93.7,205.6 L94.7,204.5 L95.7,203.5 L96.7,202.5 L97.7,201.5 L98.7,200.5 L99.7,199.5 L100.7,198.5 L101.7,197.6 L102.7,196.6 L103.7,195.7 L104.7,194.9 L105.7,194.0 L106.7,193.2 L107.7,192.4 L108.7,191.6 L109.7,190.9 L110.7,190.2 L111.7,189.6 L112.7,189.0 L113.7,188.5 L114.7,188.1 L115.7,187.7 L116.7,187.4 L117.7,187.2 L118.7,187.0 L119.7,186.9 L120.7,186.8 L121.7,186.7 L122.7,186.7 L123.7,186.7 L124.7,186.9 L125.7,187.0 L126.7,187.2 L127.7,187.5 L128.7,187.7 L129.7,188.0 L130.7,188.4 L131.7,188.8 L132.7,189.2 L133.7,189.7 L134.7,190.3 L135.7,190.8 L136.7,191.5 L137.7,192.1 L138.7,192.9 L139.7,193.6 L140.7,194.4 L141.7,195.3 L142.7,196.1 L143.7,197.0 L144.7,197.9 L145.7,198.7 L146.7,199.6 L147.7,200.4 L148.7,201.2 L149.7,202.0 L150.7,202.8 L151.7,203.5 L152.7,204.2 L153.7,204.9 L154.7,205.6 L155.7,206.2 L156.7,206.8 L157.7,207.5 L158.7,208.1 L159.7,208.9 L160.7,209.7 L161.7,210.5 L162.7,211.5 L163.7,212.5 L164.7,213.4 L165.7,214.4 L166.7,215.4 L167.7,216.3 L168.7,217.2 L169.7,218.0 L170.7,218.8 L171.7,219.7 L172.7,220.4 L173.7,221.2 L174.7,222.0 L175.7,222.7 L176.7,223.4 L177.7,224.1 L178.7,224.8 L179.7,225.5 L180.7,226.2 L181.7,226.8 L182.7,227.5 L183.7,228.1 L184.7,228.7 L185.7,229.3 L186.7,229.9 L187.7,230.5 L188.7,231.1 L189.7,231.7 L190.7,232.2 L191.7,232.8 L192.7,233.4 L193.7,234.0 L194.7,234.6 L195.7,235.1 L196.7,235.6 L197.7,236.0 L198.7,236.4 L199.7,236.8 L200.7,237.1 L201.7,237.5 L202.7,237.9 L203.7,238.3 L204.7,238.8 L205.7,239.2 L206.7,239.6 L207.7,240.0 L208.7,240.4 L209.7,240.8 L210.7,241.2 L211.7,241.5 L212.7,241.9 L213.7,242.2 L214.7,242.5 L215.7,242.8 L216.7,243.1 L217.7,243.4 L218.7,243.7 L219.7,244.0 L220.7,244.2 L221.7,244.5 L222.7,244.7 L223.7,245.0 L224.7,245.2 L225.7,245.5 L226.7,245.7 L227.7,245.9 L228.7,246.1 L229.7,246.3 L230.7,246.6 L231.7,246.8 L232.7,247.0 L233.7,247.2 L234.7,247.4 L235.7,247.6 L236.7,247.8 L237.7,248.0 L238.7,248.2 L239.7,248.4 L240.7,248.6 L241.7,248.7 L242.7,248.9 L243.7,249.0 L244.7,249.2 L245.7,249.3 L246.7,249.4 L247.7,249.5 L248.7,249.6 L249.7,249.7 L250.7,249.7 L251.7,249.8 L252.7,249.9 L253.7,249.9 L254.7,250.0 L255.7,250.0 L256.7,250.1 L257.7,250.1 L258.7,250.2 L259.7,250.2 L260.7,250.3 L261.7,250.3 L262.7,250.4 L263.7,250.4 L264.7,250.5 L265.7,250.5 L266.7,250.6 L267.7,250.6 L268.7,250.6 L269.7,250.7 L270.7,250.7 L271.7,250.7 L272.7,250.8 L273.7,250.8 L274.7,250.8 L275.7,250.9 L276.7,250.9 L277.7,250.9 L278.7,250.9 L279.7,251.0 L280.7,251.0 L281.7,251.0 L282.7,251.0 L283.7,251.1 L284.7,251.1 L285.7,251.1 L286.7,251.1 L287.7,251.2 L288.7,251.2 L289.7,251.2 L290.7,251.2 L291.7,251.2 L292.7,251.3 L293.7,251.3 L294.7,251.3 L295.7,251.3 L296.7,251.3 L297.7,251.4 L298.7,251.4 L299.7,251.4 L300.7,251.4 L301.7,251.4 L302.7,251.4 L303.7,251.5 L304.7,251.5 L305.7,251.5 L306.7,251.5 L307.7,251.5 L308.7,251.5 L309.7,251.5 L310.7,251.5 L311.7,251.5 L312.7,251.5 L313.7,251.5 L314.7,251.5 L315.7,251.5 L316.7,251.5 L317.7,251.5 L318.7,251.5 L319.7,251.5 L320.7,251.5 L321.7,251.5 L322.7,251.5 L323.7,251.5 L324.7,251.5 L325.7,251.5" stroke="#f26c0c"/>
<path d="M41.7,224.7 L42.7,223.9 L43.7,222.8 L44.7,221.5 L45.7,220.2 L46.7,218.8 L47.7,217.3 L48.7,215.9 L49.7,214.4 L50.7,213.0 L51.7,211.6 L52.7,210.3 L53.7,209.0 L54.7,207.8 L55.7,206.7 L56.7,205.7 L57.7,204.8 L58.7,203.9 L59.7,203.2 L60.7,202.5 L61.7,201.8 L62.7,201.2 L63.7,200.7 L64.7,200.1 L65.7,199.6 L66.7,199.1 L67.7,198.6 L68.7,198.1 L69.7,197.6 L70.7,197.0 L71.7,196.4 L72.7,195.8 L73.7,195.1 L74.7,194.5 L75.7,193.8 L76.7,193.0 L77.7,192.3 L78.7,191.5 L79.7,190.7 L80.7,189.9 L81.7,189.2 L82.7,188.5 L83.7,187.7 L84.7,187.0 L85.7,186.3 L86.7,185.6 L87.7,184.9 L88.7,184.0 L89.7,183.1 L90.7,182.1 L91.7,181.0 L92.7,180.1 L93.7,179.4 L94.7,178.7 L95.7,177.9 L96.7,177.1 L97.7,176.3 L98.7,175.3 L99.7,174.4 L100.7,173.4 L101.7,172.4 L102.7,171.5 L103.7,170.6 L104.7,169.8 L105.7,169.1 L106.7,168.3 L107.7,167.6 L108.7,167.0 L109.7,166.4 L110.7,165.9 L111.7,165.5 L112.7,165.2 L113.7,164.9 L114.7,164.7 L115.7,164.5 L116.7,164.4 L117.7,164.5 L118.7,164.5 L119.7,164.7 L120.7,164.9 L121.7,165.2 L122.7,165.5 L123.7,165.9 L124.7,166.4 L125.7,167.0 L126.7,167.5 L127.7,168.2 L128.7,168.8 L129.7,169.5 L130.7,170.2 L131.7,170.9 L132.7,171.6 L133.7,172.4 L134.7,173.1 L135.7,173.9 L136.7,174.6 L137.7,175.4 L138.7,176.3 L139.7,177.1 L140.7,178.1 L141.7,179.0 L142.7,180.1 L143.7,181.2 L144.7,182.3 L145.7,183.4 L146.7,184.5 L147.7,185.5 L148.7,186.6 L149.7,187.7 L150.7,188.8 L151.7,189.9 L152.7,191.0 L153.7,192.1 L154.7,193.3 L155.7,194.5 L156.7,195.7 L157.7,196.9 L158.7,198.1 L159.7,199.3 L160.7,200.5 L161.7,201.6 L162.7,202.8 L163.7,203.9 L164.7,205.0 L165.7,206.1 L166.7,207.1 L167.7,208.1 L168.7,209.1 L169.7,210.1 L170.7,211.0 L171.7,212.0 L172.7,213.1 L173.7,214.2 L174.7,215.3 L175.7,216.5 L176.7,217.6 L177.7,218.6 L178.7,219.5 L179.7,220.4 L180.7,221.3 L181.7,222.1 L182.7,223.0 L183.7,223.7 L184.7,224.5 L185.7,225.3 L186.7,226.0 L187.7,226.7 L188.7,227.4 L189.7,228.1 L190.7,228.7 L191.7,229.2 L192.7,229.8 L193.7,230.3 L194.7,230.7 L195.7,231.2 L196.7,231.7 L197.7,232.1 L198.7,232.6 L199.7,233.1 L200.7,233.6 L201.7,234.1 L202.7,234.6 L203.7,235.1 L204.7,235.6 L205.7,236.2 L206.7,236.7 L207.7,237.2 L208.7,237.7 L209.7,238.1 L210.7,238.6 L211.7,239.0 L212.7,239.4 L213.7,239.8 L214.7,240.2 L215.7,240.6 L216.7,240.9 L217.7,241.3 L218.7,241.6 L219.7,242.0 L220.7,242.3 L221.7,242.6 L222.7,242.9 L223.7,243.2 L224.7,243.5 L225.7,243.8 L226.7,244.1 L227.7,244.3 L228.7,244.6 L229.7,244.9 L230.7,245.2 L231.7,245.4 L232.7,245.7 L233.7,245.9 L234.7,246.2 L235.7,246.4 L236.7,246.7 L237.7,246.9 L238.7,247.1 L239.7,247.4 L240.7,247.6 L241.7,247.8 L242.7,248.0 L243.7,248.1 L244.7,248.3 L245.7,248.5 L246.7,248.6 L247.7,248.7 L248.7,248.9 L249.7,249.0 L250.7,249.1 L251.7,249.1 L252.7,249.2 L253.7,249.3 L254.7,249.4 L255.7,249.4 L256.7,249.5 L257.7,249.6 L258.7,249.7 L259.7,249.7 L260.7,249.8 L261.7,249.8 L262.7,249.9 L263.7,250.0 L264.7,250.0 L265.7,250.1 L266.7,250.1 L267.7,250.2 L268.7,250.2 L269.7,250.3 L270.7,250.3 L271.7,250.4 L272.7,250.4 L273.7,250.5 L274.7,250.5 L275.7,250.5 L276.7,250.6 L277.7,250.6 L278.7,250.7 L279.7,250.7 L280.7,250.7 L281.7,250.8 L282.7,250.8 L283.7,250.8 L284.7,250.9 L285.7,250.9 L286.7,250.9 L287.7,250.9 L288.7,251.0 L289.7,251.0 L290.7,251.0 L291.7,251.0 L292.7,251.1 L293.7,251.1 L294.7,251.1 L295.7,251.1 L296.7,251.2 L297.7,251.2 L298.7,251.2 L299.7,251.2 L300.7,251.3 L301.7,251.3 L302.7,251.3 L303.7,251.3 L304.7,251.3 L305.7,251.4 L306.7,251.4 L307.7,251.4 L308.7,251.4 L309.7,251.4 L310.7,251.5 L311.7,251.5 L312.7,251.5 L313.7,251.5 L314.7,251.5 L315.7,251.5 L316.7,251.5 L317.7,251.5 L318.7,251.5 L319.7,251.5 L320.7,251.5 L321.7,251.5 L322.7,251.5 L323.7,251.5 L324.7,251.5 L325.7,251.5" stroke="#5b96d0"/>
<path d="M41.7,178.4 L42.7,176.5 L43.7,173.8 L44.7,170.6 L45.7,167.0 L46.7,163.3 L47.7,159.6 L48.7,156.1 L49.7,152.6 L50.7,149.2 L51.7,145.9 L52.7,142.7 L53.7,139.7 L54.7,137.0 L55.7,134.4 L56.7,131.9 L57.7,129.8 L58.7,127.8 L59.7,126.1 L60.7,124.6 L61.7,123.4 L62.7,122.3 L63.7,121.3 L64.7,120.5 L65.7,119.8 L66.7,119.1 L67.7,118.4 L68.7,117.6 L69.7,116.9 L70.7,116.2 L71.7,115.6 L72.7,115.1 L73.7,114.7 L74.7,114.3 L75.7,113.8 L76.7,113.3 L77.7,112.7 L78.7,112.1 L79.7,111.5 L80.7,110.9 L81.7,110.3 L82.7,109.8 L83.7,109.4 L84.7,109.0 L85.7,108.6 L86.7,108.3 L87.7,108.1 L88.7,108.0 L89.7,107.9 L90.7,107.8 L91.7,107.7 L92.7,107.6 L93.7,107.5 L94.7,107.4 L95.7,107.3 L96.7,107.2 L97.7,107.1 L98.7,107.0 L99.7,106.9 L100.7,106.9 L101.7,106.9 L102.7,107.0 L103.7,107.2 L104.7,107.5 L105.7,107.8 L106.7,108.2 L107.7,108.7 L108.7,109.1 L109.7,109.6 L110.7,110.1 L111.7,110.5 L112.7,111.0 L113.7,111.5 L114.7,112.0 L115.7,112.6 L116.7,113.2 L117.7,113.8 L118.7,114.4 L119.7,115.0 L120.7,115.7 L121.7,116.5 L122.7,117.3 L123.7,118.2 L124.7,119.2 L125.7,120.2 L126.7,121.3 L127.7,122.5 L128.7,123.7 L129.7,125.0 L130.7,126.4 L131.7,127.9 L132.7,129.5 L133.7,131.1 L134.7,132.7 L135.7,134.5 L136.7,136.3 L137.7,138.2 L138.7,140.1 L139.7,142.0 L140.7,143.8 L141.7,145.4 L142.7,147.0 L143.7,148.6 L144.7,150.3 L145.7,152.0 L146.7,153.9 L147.7,155.7 L148.7,157.6 L149.7,159.4 L150.7,161.2 L151.7,163.0 L152.7,164.9 L153.7,166.7 L154.7,168.5 L155.7,170.3 L156.7,172.1 L157.7,173.8 L158.7,175.5 L159.7,177.3 L160.7,179.3 L161.7,181.3 L162.7,183.3 L163.7,185.2 L164.7,187.1 L165.7,188.8 L166.7,190.6 L167.7,192.3 L168.7,194.0 L169.7,195.6 L170.7,197.1 L171.7,198.5 L172.7,199.9 L173.7,201.1 L174.7,202.3 L175.7,203.4 L176.7,204.5 L177.7,205.5 L178.7,206.5 L179.7,207.5 L180.7,208.5 L181.7,209.5 L182.7,210.5 L183.7,211.5 L184.7,212.5 L185.7,213.6 L186.7,214.6 L187.7,215.6 L188.7,216.6 L189.7,217.6 L190.7,218.6 L191.7,219.6 L192.7,220.5 L193.7,221.4 L194.7,222.3 L195.7,223.2 L196.7,224.1 L197.7,225.0 L198.7,225.8 L199.7,226.6 L200.7,227.4 L201.7,228.2 L202.7,228.8 L203.7,229.5 L204.7,230.1 L205.7,230.7 L206.7,231.3 L207.7,231.8 L208.7,232.4 L209.7,233.1 L210.7,233.8 L211.7,234.6 L212.7,235.4 L213.7,236.3 L214.7,237.0 L215.7,237.7 L216.7,238.4 L217.7,239.0 L218.7,239.5 L219.7,240.0 L220.7,240.5 L221.7,240.9 L222.7,241.3 L223.7,241.7 L224.7,242.1 L225.7,242.4 L226.7,242.7 L227.7,243.1 L228.7,243.4 L229.7,243.7 L230.7,244.0 L231.7,244.3 L232.7,244.6 L233.7,244.9 L234.7,245.2 L235.7,245.4 L236.7,245.7 L237.7,245.9 L238.7,246.2 L239.7,246.4 L240.7,246.6 L241.7,246.9 L242.7,247.1 L243.7,247.2 L244.7,247.4 L245.7,247.6 L246.7,247.8 L247.7,247.9 L248.7,248.0 L249.7,248.2 L250.7,248.3 L251.7,248.4 L252.7,248.5 L253.7,248.6 L254.7,248.7 L255.7,248.8 L256.7,248.9 L257.7,249.0 L258.7,249.0 L259.7,249.1 L260.7,249.2 L261.7,249.3 L262.7,249.4 L263.7,249.5 L264.7,249.5 L265.7,249.6 L266.7,249.7 L267.7,249.8 L268.7,249.8 L269.7,249.9 L270.7,250.0 L271.7,250.0 L272.7,250.1 L273.7,250.1 L274.7,250.2 L275.7,250.3 L276.7,250.3 L277.7,250.4 L278.7,250.4 L279.7,250.5 L280.7,250.5 L281.7,250.5 L282.7,250.6 L283.7,250.6 L284.7,250.6 L285.7,250.7 L286.7,250.7 L287.7,250.7 L288.7,250.8 L289.7,250.8 L290.7,250.8 L291.7,250.8 L292.7,250.9 L293.7,250.9 L294.7,250.9 L295.7,250.9 L296.7,250.9 L297.7,251.0 L298.7,251.0 L299.7,251.0 L300.7,251.0 L301.7,251.0 L302.7,251.1 L303.7,251.1 L304.7,251.1 L305.7,251.1 L306.7,251.1 L307.7,251.1 L308.7,251.2 L309.7,251.2 L310.7,251.2 L311.7,251.2 L312.7,251.2 L313.7,251.2 L314.7,251.2 L315.7,251.2 L316.7,251.3 L317.7,251.3 L318.7,251.3 L319.7,251.3 L320.7,251.3 L321.7,251.3 L322.7,251.3 L323.7,251.3 L324.7,251.3 L325.7,251.3" stroke="#62b414"/>
<path d="M41.7,154.6 L42.7,152.7 L43.7,149.9 L44.7,146.2 L45.7,141.9 L46.7,137.0 L47.7,131.8 L48.7,126.5 L49.7,121.2 L50.7,116.0 L51.7,111.0 L52.7,106.0 L53.7,101.2 L54.7,96.4 L55.7,91.8 L56.7,87.7 L57.7,84.0 L58.7,80.9 L59.7,78.1 L60.7,75.7 L61.7,73.6 L62.7,71.6 L63.7,69.8 L64.7,68.3 L65.7,67.0 L66.7,66.0 L67.7,65.3 L68.7,64.7 L69.7,64.2 L70.7,63.6 L71.7,62.9 L72.7,62.2 L73.7,61.6 L74.7,61.0 L75.7,60.5 L76.7,60.1 L77.7,59.7 L78.7,59.4 L79.7,59.2 L80.7,58.9 L81.7,58.7 L82.7,58.6 L83.7,58.5 L84.7,58.5 L85.7,58.6 L86.7,58.7 L87.7,58.9 L88.7,59.1 L89.7,59.4 L90.7,59.8 L91.7,60.3 L92.7,60.8 L93.7,61.3 L94.7,61.8 L95.7,62.3 L96.7,62.9 L97.7,63.6 L98.7,64.4 L99.7,65.2 L100.7,66.2 L101.7,67.1 L102.7,68.1 L103.7,69.2 L104.7,70.2 L105.7,71.4 L106.7,72.5 L107.7,73.6 L108.7,74.7 L109.7,75.7 L110.7,76.6 L111.7,77.6 L112.7,78.6 L113.7,79.7 L114.7,80.9 L115.7,82.3 L116.7,83.7 L117.7,85.2 L118.7,86.6 L119.7,88.0 L120.7,89.5 L121.7,91.0 L122.7,92.6 L123.7,94.2 L124.7,95.8 L125.7,97.4 L126.7,99.0 L127.7,100.7 L128.7,102.5 L129.7,104.4 L130.7,106.4 L131.7,108.5 L132.7,110.6 L133.7,112.6 L134.7,114.6 L135.7,116.6 L136.7,118.5 L137.7,120.6 L138.7,122.8 L139.7,125.2 L140.7,127.6 L141.7,130.0 L142.7,132.4 L143.7,134.8 L144.7,137.2 L145.7,139.4 L146.7,141.5 L147.7,143.5 L148.7,145.5 L149.7,147.4 L150.7,149.3 L151.7,151.3 L152.7,153.3 L153.7,155.3 L154.7,157.3 L155.7,159.3 L156.7,161.4 L157.7,163.4 L158.7,165.4 L159.7,167.5 L160.7,169.6 L161.7,171.7 L162.7,173.9 L163.7,176.1 L164.7,178.1 L165.7,180.1 L166.7,181.9 L167.7,183.7 L168.7,185.4 L169.7,187.1 L170.7,188.9 L171.7,190.7 L172.7,192.5 L173.7,194.3 L174.7,196.0 L175.7,197.6 L176.7,199.2 L177.7,200.6 L178.7,202.0 L179.7,203.4 L180.7,204.6 L181.7,205.9 L182.7,207.1 L183.7,208.2 L184.7,209.3 L185.7,210.4 L186.7,211.4 L187.7,212.5 L188.7,213.4 L189.7,214.4 L190.7,215.4 L191.7,216.3 L192.7,217.3 L193.7,218.3 L194.7,219.3 L195.7,220.3 L196.7,221.2 L197.7,222.1 L198.7,223.0 L199.7,223.8 L200.7,224.6 L201.7,225.4 L202.7,226.1 L203.7,226.9 L204.7,227.6 L205.7,228.4 L206.7,229.1 L207.7,229.8 L208.7,230.6 L209.7,231.3 L210.7,232.1 L211.7,232.8 L212.7,233.6 L213.7,234.4 L214.7,235.1 L215.7,235.8 L216.7,236.4 L217.7,237.0 L218.7,237.6 L219.7,238.2 L220.7,238.7 L221.7,239.2 L222.7,239.6 L223.7,240.0 L224.7,240.5 L225.7,240.8 L226.7,241.2 L227.7,241.6 L228.7,241.9 L229.7,242.3 L230.7,242.6 L231.7,242.9 L232.7,243.2 L233.7,243.6 L234.7,243.9 L235.7,244.2 L236.7,244.5 L237.7,244.7 L238.7,245.0 L239.7,245.3 L240.7,245.5 L241.7,245.8 L242.7,246.0 L243.7,246.2 L244.7,246.4 L245.7,246.6 L246.7,246.8 L247.7,246.9 L248.7,247.1 L249.7,247.2 L250.7,247.4 L251.7,247.5 L252.7,247.6 L253.7,247.8 L254.7,247.9 L255.7,248.0 L256.7,248.1 L257.7,248.2 L258.7,248.3 L259.7,248.4 L260.7,248.5 L261.7,248.6 L262.7,248.7 L263.7,248.8 L264.7,248.9 L265.7,249.0 L266.7,249.1 L267.7,249.2 L268.7,249.3 L269.7,249.4 L270.7,249.4 L271.7,249.5 L272.7,249.6 L273.7,249.7 L274.7,249.7 L275.7,249.8 L276.7,249.9 L277.7,249.9 L278.7,250.0 L279.7,250.0 L280.7,250.1 L281.7,250.2 L282.7,250.2 L283.7,250.3 L284.7,250.3 L285.7,250.3 L286.7,250.4 L287.7,250.4 L288.7,250.5 L289.7,250.5 L290.7,250.5 L291.7,250.6 L292.7,250.6 L293.7,250.6 L294.7,250.6 L295.7,250.7 L296.7,250.7 L297.7,250.7 L298.7,250.8 L299.7,250.8 L300.7,250.8 L301.7,250.8 L302.7,250.9 L303.7,250.9 L304.7,250.9 L305.7,250.9 L306.7,251.0 L307.7,251.0 L308.7,251.0 L309.7,251.0 L310.7,251.0 L311.7,251.1 L312.7,251.1 L313.7,251.1 L314.7,251.1 L315.7,251.1 L316.7,251.1 L317.7,251.1 L318.7,251.2 L319.7,251.2 L320.7,251.2 L321.7,251.2 L322.7,251.2 L323.7,251.2 L324.7,251.2 L325.7,251.2" stroke="#4a4a4a"/>
<path d="M41.7,141.0 L42.7,138.9 L43.7,135.8 L44.7,131.9 L45.7,127.1 L46.7,121.7 L47.7,115.9 L48.7,109.8 L49.7,103.2 L50.7,96.4 L51.7,89.6 L52.7,83.2 L53.7,77.3 L54.7,72.1 L55.7,67.3 L56.7,63.0 L57.7,59.2 L58.7,55.8 L59.7,52.7 L60.7,49.9 L61.7,47.3 L62.7,45.0 L63.7,43.0 L64.7,41.3 L65.7,39.8 L66.7,38.6 L67.7,37.6 L68.7,36.8 L69.7,36.1 L70.7,35.6 L71.7,35.2 L72.7,34.8 L73.7,34.3 L74.7,33.8 L75.7,33.2 L76.7,32.6 L77.7,32.1 L78.7,31.5 L79.7,31.1 L80.7,30.7 L81.7,30.5 L82.7,30.5 L83.7,30.6 L84.7,30.7 L85.7,30.9 L86.7,31.2 L87.7,31.4 L88.7,31.6 L89.7,32.0 L90.7,32.4 L91.7,33.1 L92.7,33.8 L93.7,34.7 L94.7,35.6 L95.7,36.7 L96.7,37.7 L97.7,38.8 L98.7,39.9 L99.7,41.0 L100.7,42.3 L101.7,43.6 L102.7,45.0 L103.7,46.4 L104.7,47.9 L105.7,49.4 L106.7,51.0 L107.7,52.7 L108.7,54.3 L109.7,55.8 L110.7,57.3 L111.7,58.7 L112.7,60.0 L113.7,61.4 L114.7,62.8 L115.7,64.2 L116.7,65.6 L117.7,67.0 L118.7,68.4 L119.7,69.9 L120.7,71.6 L121.7,73.5 L122.7,75.5 L123.7,77.7 L124.7,79.9 L125.7,82.2 L126.7,84.5 L127.7,86.8 L128.7,89.2 L129.7,91.6 L130.7,94.0 L131.7,96.3 L132.7,98.4 L133.7,100.4 L134.7,102.3 L135.7,104.2 L136.7,106.1 L137.7,108.3 L138.7,110.5 L139.7,112.8 L140.7,115.2 L141.7,117.7 L142.7,120.2 L143.7,122.7 L144.7,125.2 L145.7,127.7 L146.7,130.2 L147.7,132.8 L148.7,135.4 L149.7,138.0 L150.7,140.6 L151.7,143.0 L152.7,145.4 L153.7,147.5 L154.7,149.5 L155.7,151.4 L156.7,153.2 L157.7,155.1 L158.7,157.0 L159.7,158.9 L160.7,161.0 L161.7,163.0 L162.7,165.1 L163.7,167.3 L164.7,169.4 L165.7,171.6 L166.7,173.8 L167.7,176.0 L168.7,178.2 L169.7,180.3 L170.7,182.3 L171.7,184.3 L172.7,186.1 L173.7,187.9 L174.7,189.6 L175.7,191.2 L176.7,192.8 L177.7,194.5 L178.7,196.2 L179.7,197.8 L180.7,199.3 L181.7,200.8 L182.7,202.2 L183.7,203.5 L184.7,204.8 L185.7,206.0 L186.7,207.3 L187.7,208.5 L188.7,209.8 L189.7,211.0 L190.7,212.3 L191.7,213.5 L192.7,214.7 L193.7,215.9 L194.7,217.0 L195.7,218.0 L196.7,219.0 L197.7,220.0 L198.7,221.0 L199.7,221.9 L200.7,222.8 L201.7,223.7 L202.7,224.5 L203.7,225.4 L204.7,226.2 L205.7,227.0 L206.7,227.8 L207.7,228.6 L208.7,229.3 L209.7,230.1 L210.7,230.8 L211.7,231.5 L212.7,232.3 L213.7,232.9 L214.7,233.6 L215.7,234.2 L216.7,234.8 L217.7,235.4 L218.7,236.0 L219.7,236.5 L220.7,237.0 L221.7,237.5 L222.7,238.0 L223.7,238.4 L224.7,238.8 L225.7,239.3 L226.7,239.7 L227.7,240.1 L228.7,240.5 L229.7,240.8 L230.7,241.2 L231.7,241.5 L232.7,241.8 L233.7,242.1 L234.7,242.4 L235.7,242.7 L236.7,242.9 L237.7,243.2 L238.7,243.4 L239.7,243.6 L240.7,243.8 L241.7,244.1 L242.7,244.3 L243.7,244.5 L244.7,244.7 L245.7,244.9 L246.7,245.1 L247.7,245.3 L248.7,245.5 L249.7,245.7 L250.7,245.8 L251.7,246.0 L252.7,246.2 L253.7,246.3 L254.7,246.5 L255.7,246.6 L256.7,246.8 L257.7,246.9 L258.7,247.1 L259.7,247.2 L260.7,247.4 L261.7,247.5 L262.7,247.6 L263.7,247.8 L264.7,247.9 L265.7,248.0 L266.7,248.1 L267.7,248.3 L268.7,248.4 L269.7,248.5 L270.7,248.6 L271.7,248.7 L272.7,248.8 L273.7,248.9 L274.7,249.0 L275.7,249.0 L276.7,249.1 L277.7,249.2 L278.7,249.2 L279.7,249.3 L280.7,249.4 L281.7,249.4 L282.7,249.5 L283.7,249.5 L284.7,249.6 L285.7,249.6 L286.7,249.7 L287.7,249.7 L288.7,249.8 L289.7,249.8 L290.7,249.9 L291.7,249.9 L292.7,249.9 L293.7,250.0 L294.7,250.0 L295.7,250.1 L296.7,250.1 L297.7,250.1 L298.7,250.2 L299.7,250.2 L300.7,250.2 L301.7,250.3 L302.7,250.3 L303.7,250.3 L304.7,250.3 L305.7,250.4 L306.7,250.4 L307.7,250.4 L308.7,250.5 L309.7,250.5 L310.7,250.5 L311.7,250.5 L312.7,250.6 L313.7,250.6 L314.7,250.6 L315.7,250.6 L316.7,250.7 L317.7,250.7 L318.7,250.7 L319.7,250.7 L320.7,250.7 L321.7,250.7 L322.7,250.8 L323.7,250.8 L324.7,250.8 L325.7,250.8" stroke="#e8323c"/>
</g>
<line x1="37.2" y1="251.8" x2="41.7" y2="251.8" stroke="#2a2a2a" stroke-width="1.3"/>
<text x="34.2" y="255.70000000000002" font-size="11" text-anchor="end" font-family="Liberation Serif" textLength="4.8" lengthAdjust="spacingAndGlyphs" style="stroke-width:0.32px">0</text>
<line x1="39.7" y1="232.6" x2="41.7" y2="232.6" stroke="#2a2a2a" stroke-width="1.3"/>
<line x1="37.2" y1="213.5" x2="41.7" y2="213.5" stroke="#2a2a2a" stroke-width="1.3"/>
<text x="34.2" y="217.36666666666667" font-size="11" text-anchor="end" font-family="Liberation Serif" textLength="14.4" lengthAdjust="spacingAndGlyphs" style="stroke-width:0.32px">200</text>
<line x1="39.7" y1="194.3" x2="41.7" y2="194.3" stroke="#2a2a2a" stroke-width="1.3"/>
<line x1="37.2" y1="175.1" x2="41.7" y2="175.1" stroke="#2a2a2a" stroke-width="1.3"/>
<text x="34.2" y="179.03333333333333" font-size="11" text-anchor="end" font-family="Liberation Serif" textLength="14.4" lengthAdjust="spacingAndGlyphs" style="stroke-width:0.32px">400</text>
<line x1="39.7" y1="156.0" x2="41.7" y2="156.0" stroke="#2a2a2a" stroke-width="1.3"/>
<line x1="37.2" y1="136.8" x2="41.7" y2="136.8" stroke="#2a2a2a" stroke-width="1.3"/>
<text x="34.2" y="140.70000000000002" font-size="11" text-anchor="end" font-family="Liberation Serif" textLength="14.4" lengthAdjust="spacingAndGlyphs" style="stroke-width:0.32px">600</text>
<line x1="39.7" y1="117.6" x2="41.7" y2="117.6" stroke="#2a2a2a" stroke-width="1.3"/>
<line x1="37.2" y1="98.5" x2="41.7" y2="98.5" stroke="#2a2a2a" stroke-width="1.3"/>
<text x="34.2" y="102.36666666666667" font-size="11" text-anchor="end" font-family="Liberation Serif" textLength="14.4" lengthAdjust="spacingAndGlyphs" style="stroke-width:0.32px">800</text>
<line x1="39.7" y1="79.3" x2="41.7" y2="79.3" stroke="#2a2a2a" stroke-width="1.3"/>
<line x1="37.2" y1="60.1" x2="41.7" y2="60.1" stroke="#2a2a2a" stroke-width="1.3"/>
<text x="34.2" y="64.03333333333336" font-size="11" text-anchor="end" font-family="Liberation Serif" textLength="19.2" lengthAdjust="spacingAndGlyphs" style="stroke-width:0.32px">1000</text>
<line x1="39.7" y1="41.0" x2="41.7" y2="41.0" stroke="#2a2a2a" stroke-width="1.3"/>
<line x1="37.2" y1="21.8" x2="41.7" y2="21.8" stroke="#2a2a2a" stroke-width="1.3"/>
<text x="34.2" y="25.70000000000001" font-size="11" text-anchor="end" font-family="Liberation Serif" textLength="19.2" lengthAdjust="spacingAndGlyphs" style="stroke-width:0.32px">1200</text>
<line x1="78.8" y1="251.8" x2="78.8" y2="254.10000000000002" stroke="#2a2a2a" stroke-width="1.3"/>
<text x="78.75652173913042" y="267.8" font-size="11" text-anchor="middle" font-family="Liberation Serif" textLength="14.4" lengthAdjust="spacingAndGlyphs" style="stroke-width:0.32px">450</text>
<line x1="140.5" y1="251.8" x2="140.5" y2="256.3" stroke="#2a2a2a" stroke-width="1.3"/>
<text x="140.51739130434783" y="267.8" font-size="11" text-anchor="middle" font-family="Liberation Serif" textLength="14.4" lengthAdjust="spacingAndGlyphs" style="stroke-width:0.32px">500</text>
<line x1="202.3" y1="251.8" x2="202.3" y2="254.10000000000002" stroke="#2a2a2a" stroke-width="1.3"/>
<text x="202.2782608695652" y="267.8" font-size="11" text-anchor="middle" font-family="Liberation Serif" textLength="14.4" lengthAdjust="spacingAndGlyphs" style="stroke-width:0.32px">550</text>
<line x1="264.0" y1="251.8" x2="264.0" y2="256.3" stroke="#2a2a2a" stroke-width="1.3"/>
<text x="264.03913043478263" y="267.8" font-size="11" text-anchor="middle" font-family="Liberation Serif" textLength="14.4" lengthAdjust="spacingAndGlyphs" style="stroke-width:0.32px">600</text>
<line x1="325.8" y1="251.8" x2="325.8" y2="254.10000000000002" stroke="#2a2a2a" stroke-width="1.3"/>
<text x="325.8" y="267.8" font-size="11" text-anchor="middle" font-family="Liberation Serif" textLength="14.4" lengthAdjust="spacingAndGlyphs" style="stroke-width:0.32px">650</text>
<text x="144" y="284.3" font-size="11.8" text-anchor="start" font-family="Liberation Serif" >wavelength (nm)</text>
<text x="48.9" y="15.6" font-size="15.6" text-anchor="start" font-family="Liberation Serif" >(a)</text>
<text transform="translate(10.3,187) rotate(-90)" font-size="11.8" font-family="Liberation Serif">fluorescent intensity</text>
<line x1="183.2" y1="137" x2="183.2" y2="70" stroke="#222" stroke-width="1.1"/>
<path d="M181.2,72.3 L183.2,64.8 L185.2,72.3 Z" fill="#111"/>
<text x="184.6" y="71.8" font-size="9.8" text-anchor="start" font-family="Liberation Serif" >10 mmol</text>
<text x="188.1" y="136.7" font-size="9.5" text-anchor="start" font-family="Liberation Serif" >0</text>
<rect x="388.8" y="21.7" width="284.2" height="230.4" fill="none" stroke="#2a2a2a" stroke-width="1.5"/>
<line x1="384.3" y1="252.1" x2="388.8" y2="252.1" stroke="#2a2a2a" stroke-width="1.3"/>
<text x="381.0" y="256.0" font-size="11" text-anchor="end" font-family="Liberation Serif" textLength="9.6" lengthAdjust="spacingAndGlyphs" style="stroke-width:0.32px">40</text>
<line x1="386.6" y1="229.1" x2="388.8" y2="229.1" stroke="#2a2a2a" stroke-width="1.3"/>
<text x="381.0" y="232.96" font-size="11" text-anchor="end" font-family="Liberation Serif" textLength="9.6" lengthAdjust="spacingAndGlyphs" style="stroke-width:0.32px">50</text>
<line x1="384.3" y1="206.0" x2="388.8" y2="206.0" stroke="#2a2a2a" stroke-width="1.3"/>
<text x="381.0" y="209.92" font-size="11" text-anchor="end" font-family="Liberation Serif" textLength="9.6" lengthAdjust="spacingAndGlyphs" style="stroke-width:0.32px">60</text>
<line x1="386.6" y1="183.0" x2="388.8" y2="183.0" stroke="#2a2a2a" stroke-width="1.3"/>
<text x="381.0" y="186.88" font-size="11" text-anchor="end" font-family="Liberation Serif" textLength="9.6" lengthAdjust="spacingAndGlyphs" style="stroke-width:0.32px">70</text>
<line x1="384.3" y1="159.9" x2="388.8" y2="159.9" stroke="#2a2a2a" stroke-width="1.3"/>
<text x="381.0" y="163.84" font-size="11" text-anchor="end" font-family="Liberation Serif" textLength="9.6" lengthAdjust="spacingAndGlyphs" style="stroke-width:0.32px">80</text>
<line x1="386.6" y1="136.9" x2="388.8" y2="136.9" stroke="#2a2a2a" stroke-width="1.3"/>
<text x="381.0" y="140.79999999999998" font-size="11" text-anchor="end" font-family="Liberation Serif" textLength="9.6" lengthAdjust="spacingAndGlyphs" style="stroke-width:0.32px">90</text>
<line x1="384.3" y1="113.9" x2="388.8" y2="113.9" stroke="#2a2a2a" stroke-width="1.3"/>
<text x="381.0" y="117.75999999999999" font-size="11" text-anchor="end" font-family="Liberation Serif" textLength="14.4" lengthAdjust="spacingAndGlyphs" style="stroke-width:0.32px">100</text>
<line x1="386.6" y1="90.8" x2="388.8" y2="90.8" stroke="#2a2a2a" stroke-width="1.3"/>
<text x="381.0" y="94.72" font-size="11" text-anchor="end" font-family="Liberation Serif" textLength="14.4" lengthAdjust="spacingAndGlyphs" style="stroke-width:0.32px">110</text>
<line x1="384.3" y1="67.8" x2="388.8" y2="67.8" stroke="#2a2a2a" stroke-width="1.3"/>
<text x="381.0" y="71.68" font-size="11" text-anchor="end" font-family="Liberation Serif" textLength="14.4" lengthAdjust="spacingAndGlyphs" style="stroke-width:0.32px">120</text>
<line x1="386.6" y1="44.7" x2="388.8" y2="44.7" stroke="#2a2a2a" stroke-width="1.3"/>
<text x="381.0" y="48.63999999999998" font-size="11" text-anchor="end" font-family="Liberation Serif" textLength="14.4" lengthAdjust="spacingAndGlyphs" style="stroke-width:0.32px">130</text>
<line x1="384.3" y1="21.7" x2="388.8" y2="21.7" stroke="#2a2a2a" stroke-width="1.3"/>
<text x="381.0" y="25.599999999999987" font-size="11" text-anchor="end" font-family="Liberation Serif" textLength="14.4" lengthAdjust="spacingAndGlyphs" style="stroke-width:0.32px">140</text>
<line x1="419.2" y1="252.1" x2="419.2" y2="254.4" stroke="#2a2a2a" stroke-width="1.3"/>
<text x="419.25" y="267.8" font-size="11" text-anchor="middle" font-family="Liberation Serif" textLength="14.4" lengthAdjust="spacingAndGlyphs" style="stroke-width:0.32px">250</text>
<line x1="470.0" y1="252.1" x2="470.0" y2="256.6" stroke="#2a2a2a" stroke-width="1.3"/>
<text x="470.0" y="267.8" font-size="11" text-anchor="middle" font-family="Liberation Serif" textLength="14.4" lengthAdjust="spacingAndGlyphs" style="stroke-width:0.32px">500</text>
<line x1="520.8" y1="252.1" x2="520.8" y2="254.4" stroke="#2a2a2a" stroke-width="1.3"/>
<text x="520.75" y="267.8" font-size="11" text-anchor="middle" font-family="Liberation Serif" textLength="14.4" lengthAdjust="spacingAndGlyphs" style="stroke-width:0.32px">750</text>
<line x1="571.5" y1="252.1" x2="571.5" y2="256.6" stroke="#2a2a2a" stroke-width="1.3"/>
<text x="571.5" y="267.8" font-size="11" text-anchor="middle" font-family="Liberation Serif" textLength="19.2" lengthAdjust="spacingAndGlyphs" style="stroke-width:0.32px">1000</text>
<line x1="622.2" y1="252.1" x2="622.2" y2="254.4" stroke="#2a2a2a" stroke-width="1.3"/>
<text x="622.25" y="267.8" font-size="11" text-anchor="middle" font-family="Liberation Serif" textLength="19.2" lengthAdjust="spacingAndGlyphs" style="stroke-width:0.32px">1250</text>
<line x1="673.0" y1="252.1" x2="673.0" y2="256.6" stroke="#2a2a2a" stroke-width="1.3"/>
<text x="673.0" y="267.8" font-size="11" text-anchor="middle" font-family="Liberation Serif" textLength="19.2" lengthAdjust="spacingAndGlyphs" style="stroke-width:0.32px">1500</text>
<line x1="388.8" y1="241.4" x2="388.8" y2="248.3" stroke="#111" stroke-width="1"/>
<line x1="386.40000000000003" y1="241.4" x2="391.2" y2="241.4" stroke="#111" stroke-width="1"/>
<line x1="386.40000000000003" y1="248.3" x2="391.2" y2="248.3" stroke="#111" stroke-width="1"/>
<circle cx="388.8" cy="245.1" r="1.85" fill="#000"/>
<line x1="409.6" y1="220.3" x2="409.6" y2="223.3" stroke="#111" stroke-width="1"/>
<line x1="407.20000000000005" y1="220.3" x2="412.0" y2="220.3" stroke="#111" stroke-width="1"/>
<line x1="407.20000000000005" y1="223.3" x2="412.0" y2="223.3" stroke="#111" stroke-width="1"/>
<circle cx="409.6" cy="221.8" r="1.85" fill="#000"/>
<line x1="429.5" y1="190.3" x2="429.5" y2="199.2" stroke="#111" stroke-width="1"/>
<line x1="427.1" y1="190.3" x2="431.9" y2="190.3" stroke="#111" stroke-width="1"/>
<line x1="427.1" y1="199.2" x2="431.9" y2="199.2" stroke="#111" stroke-width="1"/>
<circle cx="429.5" cy="194.5" r="1.85" fill="#000"/>
<line x1="490.2" y1="167.5" x2="490.2" y2="182.3" stroke="#111" stroke-width="1"/>
<line x1="487.8" y1="167.5" x2="492.59999999999997" y2="167.5" stroke="#111" stroke-width="1"/>
<line x1="487.8" y1="182.3" x2="492.59999999999997" y2="182.3" stroke="#111" stroke-width="1"/>
<circle cx="490.2" cy="175" r="1.85" fill="#000"/>
<line x1="531.2" y1="133.5" x2="531.2" y2="148.6" stroke="#111" stroke-width="1"/>
<line x1="528.8000000000001" y1="133.5" x2="533.6" y2="133.5" stroke="#111" stroke-width="1"/>
<line x1="528.8000000000001" y1="148.6" x2="533.6" y2="148.6" stroke="#111" stroke-width="1"/>
<circle cx="531.2" cy="140.7" r="1.85" fill="#000"/>
<line x1="571.7" y1="114" x2="571.7" y2="118.3" stroke="#111" stroke-width="1"/>
<line x1="569.3000000000001" y1="114" x2="574.1" y2="114" stroke="#111" stroke-width="1"/>
<line x1="569.3000000000001" y1="118.3" x2="574.1" y2="118.3" stroke="#111" stroke-width="1"/>
<circle cx="571.7" cy="116" r="1.85" fill="#000"/>
<line x1="673.0" y1="35.5" x2="673.0" y2="45.7" stroke="#111" stroke-width="1"/>
<line x1="670.6" y1="35.5" x2="675.4" y2="35.5" stroke="#111" stroke-width="1"/>
<line x1="670.6" y1="45.7" x2="675.4" y2="45.7" stroke="#111" stroke-width="1"/>
<circle cx="673.0" cy="40.7" r="1.85" fill="#000"/>
<line x1="388.8" y1="237.3" x2="673.0" y2="43.6" stroke="#e60000" stroke-width="2"/>
<text x="395.0" y="12.9" font-size="15.6" text-anchor="start" font-family="Liberation Serif" >(b)</text>
<text x="395.4" y="37.7" font-size="11.95" font-family="Liberation Serif">F=0.05999[N<tspan font-size="8" dy="3.3">2</tspan><tspan dy="-3.3">H</tspan><tspan font-size="8" dy="3.3">4</tspan><tspan dy="-3.3">]+40.29328</tspan></text>
<text x="395.4" y="56.6" font-size="11.9" font-family="Liberation Serif">R<tspan font-size="8" dy="-5">2</tspan><tspan dy="5">=0.99132</tspan></text>
<text x="496.1" y="285.6" font-size="11.8" font-family="Liberation Serif">[N<tspan font-size="8" dy="3.3">2</tspan><tspan dy="-3.3">H</tspan><tspan font-size="8" dy="3.3">4</tspan><tspan dy="-3.3">]*10</tspan><tspan font-size="8" dy="-5">-6</tspan><tspan dy="5"> M</tspan></text>
<text transform="translate(362,184.7) rotate(-90)" font-size="11.8" font-family="Liberation Serif">fluorescent intensity</text>
</svg></div></body></html>
